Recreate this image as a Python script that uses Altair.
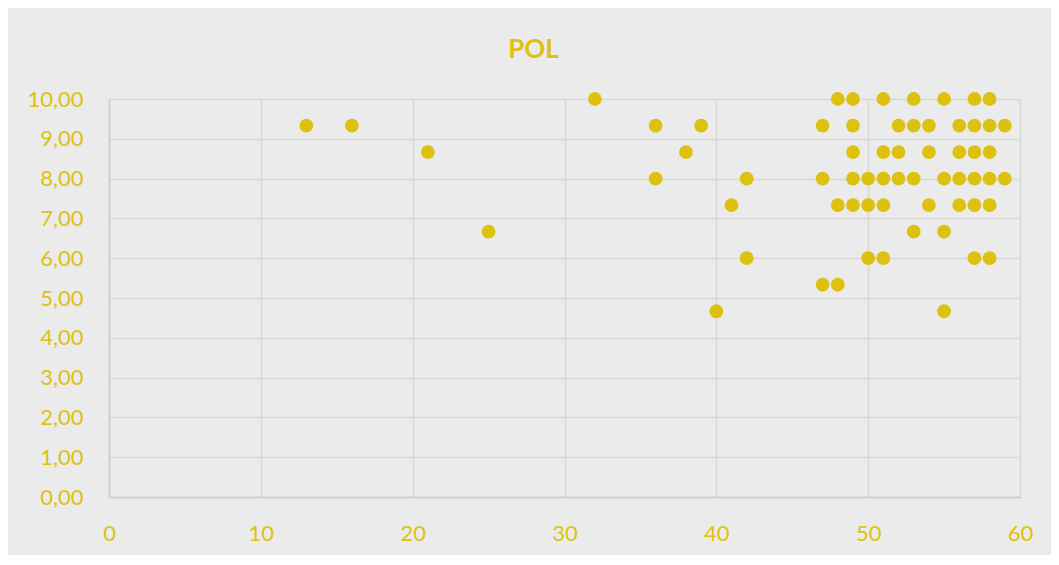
import altair as alt
import pandas as pd

# POL scatter: (x, y) pairs, grouped by y level
y_levels = [10.0, 9.333, 8.667, 8.0, 7.333, 6.667, 6.0, 5.333, 4.667]
x_by_level = [
    [32, 48, 49, 51, 53, 55, 57, 58],
    [13, 16, 36, 39, 47, 49, 52, 53, 54, 56, 57, 58, 59],
    [21, 38, 49, 51, 52, 54, 56, 57, 58],
    [36, 42, 47, 49, 50, 51, 52, 53, 55, 56, 57, 58, 59],
    [41, 48, 49, 50, 51, 54, 56, 57, 58],
    [25, 53, 55],
    [42, 50, 51, 57, 58],
    [47, 48],
    [40, 55],
]
x_ticks = [0, 10, 20, 30, 40, 50, 60]
y_ticks = [0, 1, 2, 3, 4, 5, 6, 7, 8, 9, 10]

rows = []
for yv, xs in zip(y_levels, x_by_level):
    for xv in xs:
        rows.append({"x": xv, "y": yv})
df = pd.DataFrame(rows)

yellow = "#DCC10E"
text_yellow = "#DDC20F"
font = "Lato"

chart = alt.Chart(df).mark_circle(size=190, opacity=1, color=yellow).encode(
    x=alt.X("x:Q", scale=alt.Scale(domain=[0, 60], nice=False),
            axis=alt.Axis(values=x_ticks, title=None, labelPadding=26, tickSize=0,
                          labelFontSize=22, labelColor=text_yellow, labelFont=font,
                          labelFlush=False,
                          grid=True, gridColor="#D8D8D8", gridWidth=1.5,
                          domainColor="#CDCDCD", domainWidth=1.5)),
    y=alt.Y("y:Q", scale=alt.Scale(domain=[0, 10], nice=False),
            axis=alt.Axis(values=y_ticks, title=None, labelPadding=26, tickSize=0,
                          labelFontSize=22, labelColor=text_yellow, labelFont=font,
                          labelExpr="replace(format(datum.value, '.2f'), '.', ',')",
                          grid=True, gridColor="#D8D8D8", gridWidth=1.5,
                          domainColor="#CDCDCD", domainWidth=1.5)),
).properties(
    width=911,
    height=398,
    title=alt.TitleParams("POL", fontSize=26, font=font, fontWeight="bold",
                          color=text_yellow, anchor="middle", frame="group",
                          dx=-31, offset=25),
    autosize=alt.AutoSizeParams(type="none"),
    padding={"left": 101, "top": 91, "right": 31, "bottom": 58},
    background="#EBEBEB",
).configure_view(stroke=None)

chart.save("out.html", embed_options={"renderer": "svg", "actions": False})
